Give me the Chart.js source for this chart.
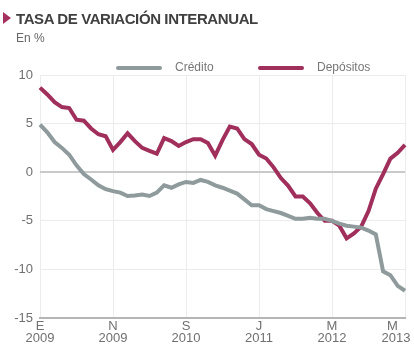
<!DOCTYPE html>
<html lang="es">
<head>
    <meta charset="UTF-8">
    <title>Tasa de variación interanual</title>
    <style>
        html, body {
            margin: 0;
            padding: 0;
            background: #fff;
        }

        #wrap {
            position: relative;
            width: 414px;
            height: 353px;
            font-family: "Liberation Sans", Arial, sans-serif;
        }

        #title {
            position: absolute;
            left: 16px;
            top: 10px;
            font-size: 15px;
            font-weight: bold;
            color: #404040;
            letter-spacing: -0.4px;
            white-space: nowrap;
        }

        #marker {
            position: absolute;
            left: 3px;
            top: 12px;
            width: 0;
            height: 0;
            border-top: 6px solid transparent;
            border-bottom: 6px solid transparent;
            border-left: 8px solid #a3305f;
        }

        #sub {
            position: absolute;
            left: 16px;
            top: 31px;
            font-size: 12px;
            color: #666;
        }

        #chart {
            position: absolute;
            left: 0;
            top: 0;
        }
    </style>
    <script src="https://cdn.jsdelivr.net/npm/chart.js"></script>
</head>
<body>
    <div id="wrap">
        <canvas id="chart" width="414" height="353"></canvas>
        <div id="marker"></div>
        <div id="title">TASA DE VARIACIÓN INTERANUAL</div>
        <div id="sub">En %</div>
    </div>

    <script>
        // Monthly values, Jan 2009 - Mar 2013
        const monthLetters = ['E', 'F', 'M', 'A', 'M', 'J', 'J', 'A', 'S', 'O', 'N', 'D'];
        const startYear = 2009;
        const months = [];
        for (let i = 0; i < 51; i++) {
            months.push([monthLetters[i % 12], String(startYear + Math.floor(i / 12))]);
        }

        const credito = [
            4.9, 4.1, 3.1, 2.5, 1.8, 0.7, -0.2, -0.75, -1.35, -1.75,
            -1.95, -2.1, -2.45, -2.4, -2.3, -2.45, -2.1, -1.35, -1.6, -1.25,
            -1.0, -1.1, -0.8, -1.0, -1.35, -1.6, -1.9, -2.2, -2.8, -3.4,
            -3.4, -3.8, -4.0, -4.2, -4.5, -4.8, -4.8, -4.7, -4.8, -4.8,
            -5.0, -5.3, -5.5, -5.6, -5.7, -6.0, -6.4, -10.2, -10.6, -11.7,
            -12.2
        ];

        const depositos = [
            8.7, 8.0, 7.2, 6.7, 6.6, 5.4, 5.3, 4.5, 3.9, 3.7,
            2.3, 3.1, 4.0, 3.2, 2.5, 2.2, 1.9, 3.5, 3.2, 2.7,
            3.1, 3.4, 3.4, 3.0, 1.7, 3.3, 4.7, 4.5, 3.4, 2.9,
            1.8, 1.4, 0.5, -0.6, -1.4, -2.5, -2.5, -3.2, -4.2, -5.0,
            -5.0, -5.5, -6.8, -6.3, -5.6, -4.0, -1.7, -0.2, 1.4, 2.0,
            2.8
        ];

        const yTicks = [10, 5, 0, -5, -10, -15];
        const tickEvery = 10;

        const grayColor = '#8e9a9b';
        const redColor = '#a02f5c';

        // legend drawn by hand so the gaps look like the original
        const legendPlugin = {
            id: 'handLegend',
            afterDraw(chart) {
                const ctx = chart.ctx;
                const y = 68;
                const items = [
                    { x: 118, ds: chart.data.datasets[0] },
                    { x: 260, ds: chart.data.datasets[1] }
                ];
                ctx.save();
                ctx.font = '12px "Liberation Sans", Arial, sans-serif';
                ctx.textBaseline = 'middle';
                items.forEach(it => {
                    ctx.strokeStyle = it.ds.borderColor;
                    ctx.lineWidth = 4;
                    ctx.lineCap = 'round';
                    ctx.beginPath();
                    ctx.moveTo(it.x, y);
                    ctx.lineTo(it.x + 42, y);
                    ctx.stroke();
                    ctx.fillStyle = '#777';
                    ctx.fillText(it.ds.label, it.x + 57, y);
                });
                ctx.restore();
            }
        };

        const ctx = document.getElementById('chart').getContext('2d');
        const chart = new Chart(ctx, {
            type: 'line',
            data: {
                labels: months,
                datasets: [{
                    label: 'Crédito',
                    data: credito,
                    borderColor: grayColor,
                    backgroundColor: grayColor,
                    borderWidth: 4,
                    pointRadius: 0,
                    tension: 0
                }, {
                    label: 'Depósitos',
                    data: depositos,
                    borderColor: redColor,
                    backgroundColor: redColor,
                    borderWidth: 4,
                    pointRadius: 0,
                    tension: 0
                }]
            },
            options: {
                responsive: false,
                animation: false,
                layout: {
                    padding: { top: 75, right: 9, bottom: 0, left: 0 }
                },
                plugins: {
                    legend: { display: false },
                    tooltip: { enabled: false }
                },
                scales: {
                    x: {
                        offset: false,
                        border: { color: '#b5b5b5', width: 2 },
                        grid: {
                            color: '#ececec',
                            drawTicks: false
                        },
                        ticks: {
                            autoSkip: false,
                            maxRotation: 0,
                            padding: 3,
                            color: '#707070',
                            font: { size: 13, family: '"Liberation Sans", Arial, sans-serif', lineHeight: 0.9 },
                            callback: function (value, index) {
                                if (index % tickEvery !== 0) return null;
                                const lab = months[index];
                                if (index === months.length - 1) {
                                    // push the last label inside the canvas
                                    return [lab[0] + '       ', lab[1] + '     '];
                                }
                                return lab;
                            }
                        },
                        afterFit(scale) {
                            scale.height = 35;
                            scale.paddingLeft = 0;
                            scale.paddingRight = 0;
                        }
                    },
                    y: {
                        min: -15,
                        max: 10,
                        border: { display: false },
                        grid: {
                            drawTicks: false,
                            color: ctx => ctx.tick && ctx.tick.value === 0 ? '#c9c9c9' : '#ececec',
                            lineWidth: ctx => ctx.tick && ctx.tick.value === 0 ? 2 : 1
                        },
                        afterBuildTicks(scale) {
                            scale.ticks = yTicks.map(v => ({ value: v }));
                        },
                        ticks: {
                            padding: 7,
                            color: '#707070',
                            font: { size: 13, family: '"Liberation Sans", Arial, sans-serif' }
                        },
                        afterFit(scale) {
                            scale.width = 40;
                        }
                    }
                }
            },
            plugins: [legendPlugin]
        });
    </script>
</body>
</html>
